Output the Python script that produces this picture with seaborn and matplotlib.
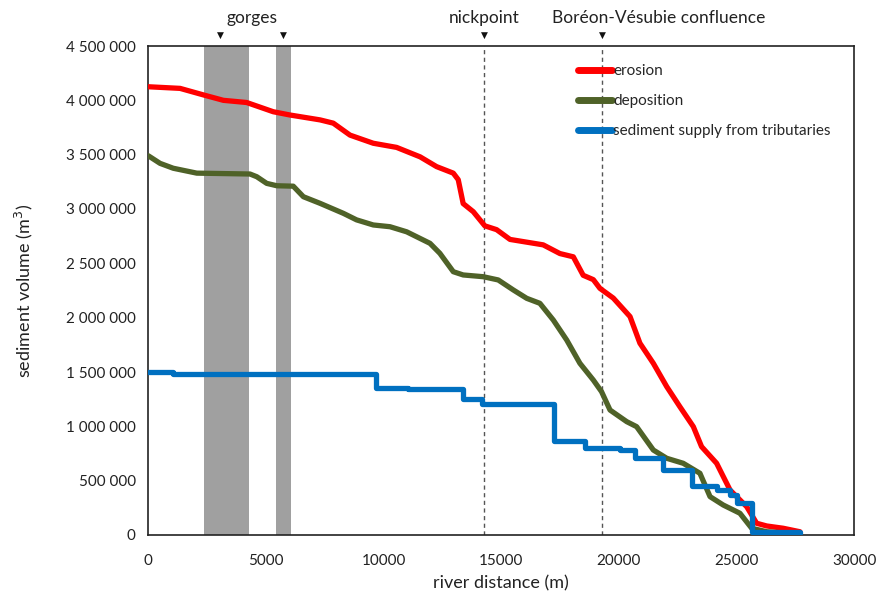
import matplotlib
matplotlib.use("Agg")
import matplotlib.pyplot as plt
import matplotlib.transforms as mtransforms
from matplotlib.ticker import FuncFormatter, MultipleLocator
import pandas as pd
import seaborn as sns

# Cumulative sediment volumes along the river (distance in m, volume in million m3)
erosion_x = [0, 1350, 2340, 3190, 4180, 5310, 6020, 7300, 7860, 8570, 9560, 10550,
             11550, 12250, 12960, 13170, 13380, 13810, 14300, 14800, 15370, 16780,
             17490, 18060, 18480, 18910, 19190, 19760, 20470, 20890, 21460, 22030,
             22590, 23160, 23510, 24150, 24720, 25430, 25850, 26280, 26980, 27690]
erosion_y = [4.125, 4.11, 4.05, 4.0, 3.98, 3.895, 3.865, 3.82, 3.79, 3.68, 3.605, 3.567,
             3.48, 3.39, 3.33, 3.27, 3.05, 2.975, 2.845, 2.81, 2.72, 2.67,
             2.59, 2.56, 2.39, 2.35, 2.27, 2.18, 2.01, 1.765, 1.58, 1.365,
             1.18, 0.997, 0.813, 0.66, 0.414, 0.26, 0.108, 0.083, 0.062, 0.03]

deposition_x = [0, 500, 1060, 2060, 4320, 4610, 5030, 5460, 6160, 6590, 7300, 8290,
                8850, 9560, 10270, 10980, 11970, 12390, 12960, 13380, 14230, 14870,
                15510, 16080, 16640, 17210, 17780, 18340, 18910, 19260, 19620, 20330,
                20750, 21460, 22030, 22730, 23440, 23870, 24430, 25140, 25640, 26280,
                27270, 27700]
deposition_y = [3.49, 3.42, 3.375, 3.33, 3.322, 3.297, 3.236, 3.214, 3.21, 3.113, 3.052, 2.96,
                2.9, 2.853, 2.837, 2.79, 2.684, 2.592, 2.423, 2.393, 2.377, 2.347,
                2.255, 2.178, 2.132, 1.978, 1.794, 1.58, 1.426, 1.319, 1.15, 1.043,
                0.997, 0.782, 0.706, 0.66, 0.568, 0.353, 0.276, 0.2, 0.062, 0.03,
                0.016, 0.015]

tributary_x = [0, 1060, 9680, 11050, 13380, 14170, 17240, 18560, 20040, 20680, 21880,
               23090, 24150, 24720, 25000, 25640, 27690]
tributary_y = [1.50, 1.48, 1.355, 1.34, 1.249, 1.205, 0.868, 0.80, 0.78, 0.711, 0.60,
               0.455, 0.414, 0.368, 0.297, 0.03, 0.02]

series_labels = ["erosion", "deposition", "sediment supply from tributaries"]
series_colors = ["#FF0000", "#4F6228", "#0070C0"]

# Gorge reaches (m) and marked locations (m)
gorge_spans = [(2370, 4280), (5410, 6060)]
gorge_arrows = [3050, 5740]
nickpoint_x = 14280
confluence_x = 19290

sns.set_theme(style="white")
plt.rcParams["font.family"] = ["Lato", "DejaVu Sans"]

fig = plt.figure(figsize=(8.79, 6.01), dpi=100)
ax = fig.add_axes([148.3 / 879, 66 / 601, (854.3 - 148.3) / 879, (535 - 46) / 601])

for x0, x1 in gorge_spans:
    ax.axvspan(x0, x1, color="#A0A0A0", lw=0, zorder=0)
for xv in (nickpoint_x, confluence_x):
    ax.axvline(xv, color="#555555", lw=1.0, ls=(0, (3, 2.5)), zorder=1)

frames = [
    pd.DataFrame({"x": erosion_x, "y": [v * 1e6 for v in erosion_y]}),
    pd.DataFrame({"x": deposition_x, "y": [v * 1e6 for v in deposition_y]}),
    pd.DataFrame({"x": tributary_x, "y": [v * 1e6 for v in tributary_y]}),
]
for i, (df, lab, col) in enumerate(zip(frames, series_labels, series_colors)):
    kw = dict(drawstyle="steps-post") if i == 2 else {}
    sns.lineplot(data=df, x="x", y="y", ax=ax, color=col, lw=3.8, label=lab,
                 solid_capstyle="round", solid_joinstyle="round", zorder=3 + i, **kw)

ax.set_xlim(0, 30000)
ax.set_ylim(0, 4.5e6)
ax.xaxis.set_major_locator(MultipleLocator(5000))
ax.yaxis.set_major_locator(MultipleLocator(500000))
ax.yaxis.set_major_formatter(FuncFormatter(lambda v, p: f"{int(round(v)):,}".replace(",", " ")))
ax.tick_params(axis="both", which="major", direction="out", length=5, width=1,
               color="#222222", labelsize=11, labelcolor="#222222", pad=4)
ax.tick_params(axis="x", pad=9)
for s in ax.spines.values():
    s.set_color("#222222")
    s.set_linewidth(1.2)

ax.set_xlabel("river distance (m)", fontsize=13, color="#222222", labelpad=5)
ax.set_ylabel("sediment volume (m$^3$)", fontsize=13, color="#222222", labelpad=22)

leg = ax.legend(loc="upper left", bbox_to_anchor=(0.6, 0.975), frameon=False,
                fontsize=11, handlelength=2.2, handletextpad=0.1, labelspacing=1.05,
                borderaxespad=0)
for h in leg.get_lines():
    h.set_linewidth(5)
    h.set_solid_capstyle("round")

# Markers and labels above the plot area
trans = mtransforms.blended_transform_factory(ax.transData, ax.transAxes)
for xv in gorge_arrows + [nickpoint_x, confluence_x]:
    ax.text(xv, 1.022, "\u25BC", transform=trans, ha="center", va="center",
            fontsize=6.5, color="#111111", family=["DejaVu Sans"])
ax.text(sum(gorge_arrows) / 2, 1.058, "gorges", transform=trans, ha="center",
        va="center", fontsize=12.5, color="#222222")
ax.text(nickpoint_x, 1.058, "nickpoint", transform=trans, ha="center",
        va="center", fontsize=12.5, color="#222222")
ax.text(21700, 1.058, "Boréon-Vésubie confluence", transform=trans, ha="center",
        va="center", fontsize=12.5, color="#222222")

fig.savefig("out.png", dpi=100)
